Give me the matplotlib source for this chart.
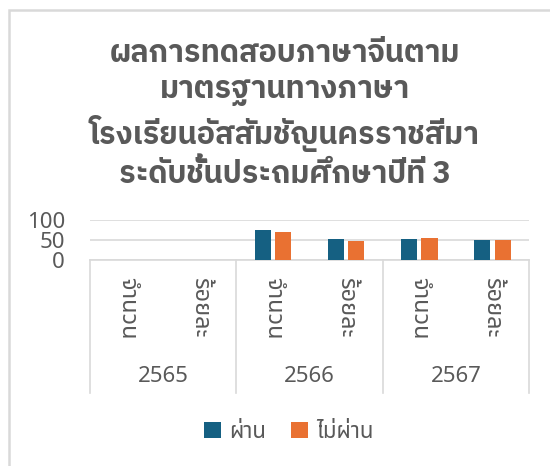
import matplotlib
matplotlib.use('Agg')
import matplotlib.pyplot as plt
import matplotlib.transforms as mtransforms
from matplotlib.patches import Rectangle
import numpy as np

plt.rcParams['font.family'] = ['Noto Sans Thai', 'Open Sans', 'DejaVu Sans']

title = 'ผลการทดสอบภาษาจีนตาม\nมาตรฐานทางภาษา\nโรงเรียนอัสสัมชัญนครราชสีมา\nระดับชั้นประถมศึกษาปีที่ 3'
years = ['2565', '2566', '2567']
measures = ['จำนวน', 'ร้อยละ']
series_names = ['ผ่าน', 'ไม่ผ่าน']
# order: 2565 count, 2565 pct, 2566 count, 2566 pct, 2567 count, 2567 pct
passed = [0, 0, 74, 51.39, 53, 49.07]
failed = [0, 0, 70, 48.61, 55, 50.93]
yticks = [0, 50, 100]

blue = '#156082'
orange = '#E97132'
grey_text = '#595959'
grey_line = '#d9d9d9'

fig = plt.figure(figsize=(5.5, 4.66), dpi=100)
ax = fig.add_axes([90 / 550, 1 - 260 / 466, 439 / 550, 40 / 466])

x = np.arange(len(passed))
w = 0.22
ax.bar(x - 0.14, passed, w, color=blue, label=series_names[0], zorder=3)
ax.bar(x + 0.14, failed, w, color=orange, label=series_names[1], zorder=3)

ax.set_xlim(-0.5, len(passed) - 0.5)
ax.set_ylim(0, 100)
ax.set_yticks(yticks)
ax.tick_params(axis='y', length=0, pad=18, labelsize=16, labelcolor=grey_text)
ax.grid(axis='y', color=grey_line, linewidth=1.2, zorder=0)
for s in ['top', 'right', 'left']:
    ax.spines[s].set_visible(False)
ax.spines['bottom'].set_color(grey_line)
ax.spines['bottom'].set_linewidth(1.2)

ax.set_xticks(x)
ax.set_xticklabels(measures * len(years), rotation=-90, va='top', ha='center')
ax.tick_params(axis='x', length=0, pad=12, labelsize=17, labelcolor=grey_text)

# second level of the category axis
trans = mtransforms.blended_transform_factory(ax.transData, ax.transAxes)
depth = -(393 - 260) / 40
for b in np.arange(-0.5, len(passed), 2):
    ax.plot([b, b], [0, depth], color=grey_line, lw=1.2, transform=trans, clip_on=False)
for i, yr in enumerate(years):
    ax.text(2 * i + 0.5, -(377 - 260) / 40, yr, transform=trans, ha='center', va='center',
            fontsize=16, color=grey_text)

fig.text(285 / 550, 1 - 114 / 466, title, ha='center', va='center', fontsize=22,
         family=['IBM Plex Sans Thai', 'DejaVu Sans'],
         fontweight='bold', color=grey_text, linespacing=1.32)

fig.legend(loc='center', bbox_to_anchor=(289 / 550, 1 - 432 / 466), ncol=2, frameon=False,
           fontsize=16, labelcolor=grey_text, handlelength=0.75, handleheight=0.75,
           handletextpad=0.4, columnspacing=1.1)

fig.patches.append(Rectangle((9 / 550, -0.1), 1.2, 1 - 10 / 466 + 0.1, transform=fig.transFigure,
                             fill=False, edgecolor=grey_line, linewidth=1.8))

fig.savefig('out.png', dpi=100)
